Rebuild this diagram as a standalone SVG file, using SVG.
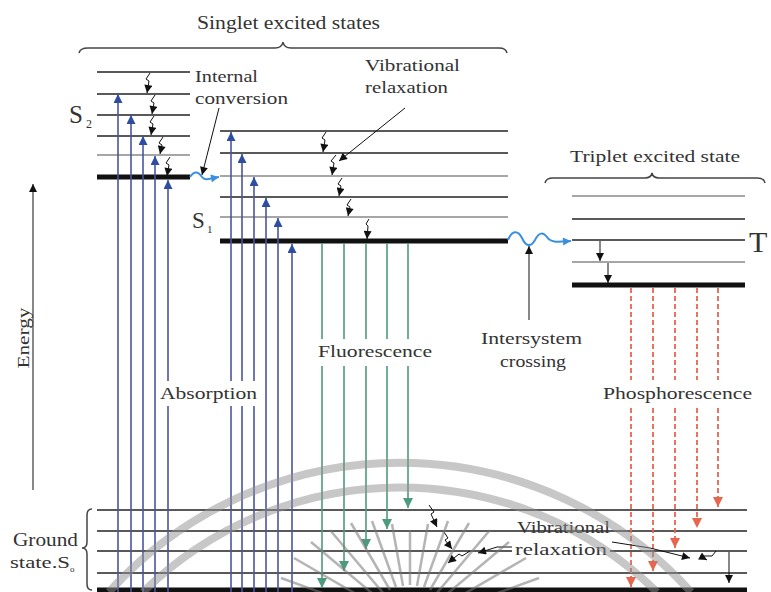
<svg xmlns="http://www.w3.org/2000/svg" width="771" height="592" viewBox="0 0 771 592">
<style>
.t{font-family:"Liberation Serif","Times New Roman",serif;fill:#333;font-size:17px}
.lv{stroke:#222;stroke-width:1.5;fill:none}
.lg{stroke:#888;stroke-width:1.5;fill:none}
.thick{stroke:#111;stroke-width:5;fill:none}
.br{stroke:#444;stroke-width:1.5;fill:none}
.ab{stroke:#4a559e;stroke-width:1.6;fill:none;marker-end:url(#mBlue)}
.fg{stroke:#4e9a7c;stroke-width:1.6;fill:none;marker-end:url(#mGreen)}
.ph{stroke:#e8664e;stroke-width:1.8;stroke-dasharray:5 3;fill:none;marker-end:url(#mRed)}
.sq{stroke:#111;stroke-width:1;fill:none;marker-end:url(#mBlack)}
.wv{stroke:#3a8fe0;stroke-width:2;fill:none;marker-end:url(#mLB)}
.wm{stroke:#909090;stroke-opacity:0.5;stroke-width:8;fill:none}
.fan{stroke:#777;stroke-opacity:0.55;stroke-width:2.5}
</style>
<defs>
<marker id="mBlue" viewBox="0 0 10 10" refX="10" refY="5" markerWidth="10" markerHeight="9" markerUnits="userSpaceOnUse" orient="auto"><path d="M0,0L10,5L0,10z" fill="#2f4d9e"/></marker>
<marker id="mGreen" viewBox="0 0 10 10" refX="10" refY="5" markerWidth="10" markerHeight="10" markerUnits="userSpaceOnUse" orient="auto"><path d="M0,0L10,5L0,10z" fill="#4e9a7c"/></marker>
<marker id="mRed" viewBox="0 0 10 10" refX="10" refY="5" markerWidth="11" markerHeight="10" markerUnits="userSpaceOnUse" orient="auto"><path d="M0,0L10,5L0,10z" fill="#e8664e"/></marker>
<marker id="mBlack" viewBox="0 0 10 10" refX="10" refY="5" markerWidth="10" markerHeight="8" markerUnits="userSpaceOnUse" orient="auto"><path d="M0,0L10,5L0,10z" fill="#111"/></marker>
<marker id="mLB" viewBox="0 0 10 10" refX="10" refY="5" markerWidth="10" markerHeight="8" markerUnits="userSpaceOnUse" orient="auto"><path d="M0,0L10,5L0,10z" fill="#3a8fe0"/></marker>
</defs>
<rect width="771" height="592" fill="#fff"/>

<g id="singlet-brace">
<path class="br" d="M79,53 Q80,48 88,48 L275,48 Q282,48 283,42 Q284,48 291,48 L499,48 Q506,48 507,53"/>
<text class="t" x="197" y="29" style="font-size:18px" textLength="183" lengthAdjust="spacingAndGlyphs">Singlet excited states</text>
</g>

<g id="S2">
<line class="lv" x1="97" y1="72" x2="190" y2="72"/>
<line class="lv" x1="97" y1="94" x2="190" y2="94"/>
<line class="lv" x1="97" y1="115" x2="190" y2="115"/>
<line class="lv" x1="97" y1="136" x2="190" y2="136"/>
<line class="lg" x1="97" y1="155" x2="190" y2="155"/>
<line class="thick" x1="97" y1="177" x2="190" y2="177"/>
<text class="t" x="69" y="123" style="font-size:25px">S</text>
<text class="t" x="86" y="128" style="font-size:12px">2</text>
</g>

<g id="S1">
<line class="lv" x1="220" y1="131" x2="508" y2="131"/>
<line class="lv" x1="220" y1="153" x2="508" y2="153"/>
<line class="lg" x1="220" y1="176" x2="508" y2="176"/>
<line class="lv" x1="220" y1="197" x2="508" y2="197"/>
<line class="lg" x1="220" y1="217" x2="508" y2="217"/>
<line class="thick" x1="220" y1="241" x2="508" y2="241"/>
<text class="t" x="192" y="228" style="font-size:23px">S</text>
<text class="t" x="207" y="233" style="font-size:11px">1</text>
</g>

<g id="triplet">
<path class="br" d="M545,183 Q546,178 553,178 L645,178 Q651,178 652,173 Q653,178 659,178 L757,178 Q764,178 765,183"/>
<text class="t" x="570" y="162" textLength="170" lengthAdjust="spacingAndGlyphs">Triplet excited state</text>
<line class="lg" x1="572" y1="196" x2="745" y2="196" stroke="#aaa"/>
<line class="lv" x1="572" y1="219" x2="745" y2="219"/>
<line class="lv" x1="572" y1="240" x2="745" y2="240"/>
<line class="lg" x1="572" y1="262" x2="745" y2="262"/>
<line class="thick" x1="572" y1="285" x2="745" y2="285"/>
<text class="t" x="749" y="252" style="font-size:30px">T</text>
</g>

<g id="ground">
<path class="br" d="M92,509 Q87,509 87,515 L87,542 Q87,548 82,548 Q87,548 87,554 L87,584 Q87,590 92,590"/>
<line class="lv" x1="97" y1="510" x2="747" y2="510" stroke="#444"/>
<line class="lv" x1="97" y1="531" x2="747" y2="531" stroke="#555" stroke-width="2"/>
<line class="lv" x1="97" y1="551" x2="747" y2="551" stroke="#444" stroke-width="2"/>
<line class="lv" x1="97" y1="573" x2="747" y2="573" stroke="#555"/>
<line class="thick" x1="97" y1="590" x2="747" y2="590"/>
<text class="t" x="13" y="546" style="font-size:18px" textLength="65" lengthAdjust="spacingAndGlyphs">Ground</text>
<text class="t" x="10" y="568" textLength="60" lengthAdjust="spacingAndGlyphs">state.S</text>
<text class="t" x="70" y="572" style="font-size:9px">o</text>
</g>

<g id="energy">
<line x1="33" y1="490" x2="33" y2="184" stroke="#888" stroke-width="2" marker-end="url(#mBlack)"/>
<text class="t" transform="translate(29,338) rotate(-90)" text-anchor="middle" fill="#555" textLength="61" lengthAdjust="spacingAndGlyphs">Energy</text>
</g>

<g id="connectors">
<line class="ab" x1="118" y1="592" x2="118" y2="94"/>
<line class="ab" x1="131" y1="592" x2="131" y2="115"/>
<line class="ab" x1="143" y1="592" x2="143" y2="136"/>
<line class="ab" x1="155" y1="592" x2="155" y2="156"/>
<line class="ab" x1="168" y1="592" x2="168" y2="180"/>
<line class="ab" x1="231" y1="592" x2="231" y2="132"/>
<line class="ab" x1="242" y1="592" x2="242" y2="154"/>
<line class="ab" x1="254" y1="592" x2="254" y2="177"/>
<line class="ab" x1="266" y1="592" x2="266" y2="198"/>
<line class="ab" x1="278" y1="592" x2="278" y2="218"/>
<line class="ab" x1="292" y1="592" x2="292" y2="244"/>
<line class="fg" x1="322" y1="243" x2="322" y2="588"/>
<line class="fg" x1="344" y1="243" x2="344" y2="571"/>
<line class="fg" x1="366" y1="243" x2="366" y2="549"/>
<line class="fg" x1="387" y1="243" x2="387" y2="529"/>
<line class="fg" x1="408" y1="243" x2="408" y2="508"/>
<line class="ph" x1="631" y1="288" x2="631" y2="587"/>
<line class="ph" x1="653" y1="288" x2="653" y2="571"/>
<line class="ph" x1="675" y1="288" x2="675" y2="548"/>
<line class="ph" x1="697" y1="288" x2="697" y2="528"/>
<line class="ph" x1="718" y1="288" x2="718" y2="507"/>
<path class="sq" d="M150,73 L146,79 L149,81 L147,93"/>
<path class="sq" d="M155,95 L151,101 L154,103 L152,114"/>
<path class="sq" d="M154,116 L150,122 L153,124 L151,135"/>
<path class="sq" d="M163,137 L159,143 L162,145 L160,154"/>
<path class="sq" d="M170,157 L166,163 L169,165 L167,176"/>
<path class="sq" d="M326,132 L322,138 L325,140 L323,152"/>
<path class="sq" d="M336,155 L331,161 L334,163 L332,175"/>
<path class="sq" d="M342,178 L338,184 L341,186 L339,196"/>
<path class="sq" d="M351,199 L347,205 L350,207 L348,216"/>
<path class="sq" d="M369,219 L366,224 L368,226 L367,239"/>
<line class="sq" x1="600" y1="241" x2="600" y2="261"/>
<line class="sq" x1="608" y1="263" x2="608" y2="283"/>
<line class="sq" x1="219" y1="108" x2="202" y2="175"/>
<line class="sq" x1="405" y1="108" x2="339" y2="161"/>
<line class="sq" x1="529" y1="320" x2="529" y2="246"/>
<path class="wv" d="M190,177 C194,171 198,171 202,177 C205,181 208,179 219,177"/>
<path class="wv" d="M508,240 C512,230 518,230 522,238 C526,247 531,247 535,240 C539,232 543,232 547,237 C551,243 557,242 571,241"/>
<path class="sq" d="M429,505 L434,512 L431,514 L437,527"/>
<path class="sq" d="M444,532 L448,538 L445,540 L452,549"/>
<path class="sq" d="M470,551 L462,556 L459,554 L448,563"/>
<path class="sq" d="M513,547 L497,547 L478,553"/>
<path class="sq" d="M612,542 L650,548 L690,558"/>
<path class="sq" d="M716,551 L712,556 L700,556 L707,560"/>
<line class="sq" x1="729" y1="552" x2="729" y2="583"/>
</g>

<g id="labels">
<text class="t" x="195" y="82" textLength="63" lengthAdjust="spacingAndGlyphs">Internal</text>
<text class="t" x="195" y="104" textLength="93" lengthAdjust="spacingAndGlyphs">conversion</text>
<text class="t" x="365" y="71" textLength="95" lengthAdjust="spacingAndGlyphs">Vibrational</text>
<text class="t" x="365" y="93" textLength="83" lengthAdjust="spacingAndGlyphs">relaxation</text>
<rect x="158" y="381" width="100" height="25" fill="#fff"/>
<text class="t" x="160" y="399" fill="#999" textLength="97" lengthAdjust="spacingAndGlyphs">Absorption</text>
<rect x="315" y="339" width="119" height="27" fill="#fff"/>
<text class="t" x="318" y="357" fill="#444" textLength="114" lengthAdjust="spacingAndGlyphs">Fluorescence</text>
<text class="t" x="481" y="344" textLength="101" lengthAdjust="spacingAndGlyphs">Intersystem</text>
<text class="t" x="500" y="367" textLength="66" lengthAdjust="spacingAndGlyphs">crossing</text>
<rect x="600" y="380" width="155" height="25" fill="#fff"/>
<text class="t" x="603" y="399" fill="#888" textLength="149" lengthAdjust="spacingAndGlyphs">Phosphorescence</text>
<rect x="514" y="516" width="98" height="12" fill="#fff"/>
<rect x="512" y="538" width="98" height="14" fill="#fff"/>
<text class="t" x="517" y="533" fill="#444" textLength="93" lengthAdjust="spacingAndGlyphs">Vibrational</text>
<text class="t" x="515" y="555" fill="#444" textLength="92" lengthAdjust="spacingAndGlyphs">relaxation</text>
</g>

<g id="watermark">
<path class="wm" d="M109,592 A392,392 0 0 1 691,592"/>
<path class="wm" d="M143,592 A368,368 0 0 1 657,592"/>
<line class="fan" x1="410" y1="585" x2="410" y2="530"/>
<line class="fan" x1="403" y1="586" x2="392" y2="524"/>
<line class="fan" x1="417" y1="586" x2="428" y2="524"/>
<line class="fan" x1="396" y1="587" x2="372" y2="521"/>
<line class="fan" x1="424" y1="587" x2="448" y2="521"/>
<line class="fan" x1="390" y1="590" x2="351" y2="523"/>
<line class="fan" x1="430" y1="590" x2="469" y2="523"/>
<line class="fan" x1="384" y1="594" x2="330" y2="530"/>
<line class="fan" x1="436" y1="594" x2="490" y2="530"/>
<line class="fan" x1="379" y1="599" x2="311" y2="542"/>
<line class="fan" x1="441" y1="599" x2="509" y2="542"/>
<line class="fan" x1="375" y1="605" x2="294" y2="558"/>
<line class="fan" x1="445" y1="605" x2="526" y2="558"/>
<line class="fan" x1="372" y1="611" x2="281" y2="578"/>
<line class="fan" x1="448" y1="611" x2="539" y2="578"/>
</g>
</svg>
